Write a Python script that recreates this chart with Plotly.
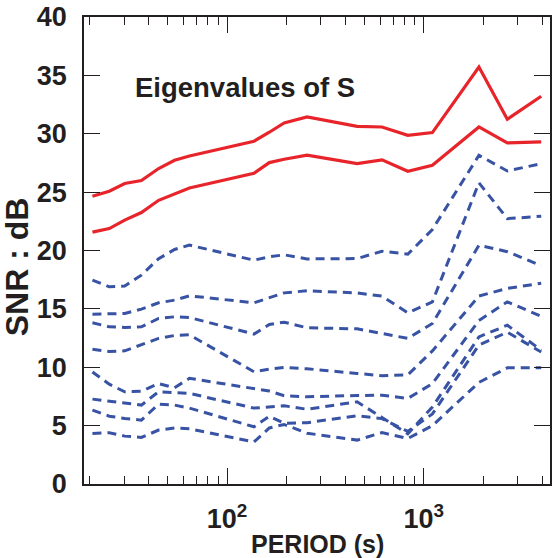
import plotly.graph_objects as go

FONT = "Liberation Sans, Arial, Helvetica, sans-serif"
INK = "#231f20"
RED = "#e8242b"
BLUE = "#3953a4"

period = [20.7, 25.2, 30.2, 36.7, 44.9, 54.1, 64.4, 137, 164, 195, 255, 458, 613, 829, 1105, 1905, 2655, 3947]

red1 = [24.65, 25.08, 25.74, 26.0, 27.02, 27.73, 28.1, 29.36, 30.13, 30.93, 31.44, 30.64, 30.58, 29.87, 30.1, 35.72, 31.24, 33.21]
red2 = [21.57, 21.88, 22.6, 23.25, 24.3, 24.88, 25.36, 26.62, 27.53, 27.82, 28.16, 27.45, 27.76, 26.79, 27.3, 30.58, 29.21, 29.3]

blue1 = [17.46, 16.89, 16.95, 17.89, 19.3, 20.09, 20.46, 19.17, 19.46, 19.63, 19.28, 19.31, 19.94, 19.69, 21.8, 28.15, 26.81, 27.44]
blue2 = [14.55, 14.55, 14.6, 14.98, 15.52, 15.75, 16.12, 15.52, 15.95, 16.37, 16.55, 16.37, 16.09, 14.66, 15.6, 25.8, 22.73, 22.93]
blue3 = [13.81, 13.46, 13.41, 13.46, 14.18, 14.32, 14.26, 12.84, 13.66, 13.86, 13.38, 13.29, 12.89, 12.47, 13.75, 20.45, 19.9, 18.7]
blue4 = [11.55, 11.35, 11.41, 11.9, 12.47, 12.72, 12.78, 9.61, 9.84, 9.98, 9.87, 9.47, 9.27, 9.35, 11.4, 16.1, 16.75, 17.2]
blue5 = [9.6, 8.55, 7.9, 7.95, 8.6, 8.25, 9.05, 8.19, 7.96, 7.56, 7.47, 7.58, 7.61, 7.33, 8.6, 14.0, 15.6, 14.37]
blue6 = [7.27, 7.1, 6.96, 6.76, 7.9, 7.81, 7.76, 6.5, 6.6, 6.7, 6.4, 7.04, 5.7, 4.3, 6.6, 12.6, 13.6, 11.46]
blue7 = [6.33, 5.81, 5.62, 5.47, 6.84, 6.76, 6.5, 4.9, 5.8, 5.2, 5.25, 5.85, 5.6, 4.5, 6.0, 11.9, 13.0, 11.3]
blue8 = [4.33, 4.39, 4.1, 3.99, 4.62, 4.79, 4.73, 3.6, 4.8, 5.1, 4.35, 3.76, 4.4, 3.9, 5.0, 8.7, 9.95, 9.95]

major_ticks = [100, 1000]
major_text = ["10<sup>2</sup>", "10<sup>3</sup>"]
minor_ticks = [20, 30, 40, 50, 60, 70, 80, 90, 200, 300, 400, 500, 600, 700, 800, 900, 2000, 3000, 4000]
y_ticks = [0, 5, 10, 15, 20, 25, 30, 35, 40]

fig = go.Figure()
for ys in [blue1, blue2, blue3, blue4, blue5, blue6, blue7, blue8]:
    fig.add_trace(go.Scatter(x=period, y=ys, mode="lines",
                             line=dict(color=BLUE, width=3, dash="9px,6px"),
                             showlegend=False, hoverinfo="skip"))
for ys in [red1, red2]:
    fig.add_trace(go.Scatter(x=period, y=ys, mode="lines",
                             line=dict(color=RED, width=3.2),
                             showlegend=False, hoverinfo="skip"))

fig.update_xaxes(
    type="log", range=[1.2731, 3.641],
    showline=True, linecolor=INK, linewidth=1.6, mirror="allticks",
    ticks="inside", ticklen=16, tickwidth=1.3, tickcolor=INK,
    tickmode="array", tickvals=major_ticks, ticktext=major_text,
    tickfont=dict(family=FONT, size=27, color=INK, weight="bold"),
    ticklabelstandoff=10,
    showgrid=False, zeroline=False,
    minor=dict(ticks="inside", ticklen=8, tickwidth=1.2, tickcolor=INK,
               tickmode="array", tickvals=minor_ticks, showgrid=False),
)
fig.update_yaxes(
    range=[0, 40],
    showline=True, linecolor=INK, linewidth=1.6, mirror="allticks",
    ticks="inside", ticklen=16, tickwidth=1.3, tickcolor=INK,
    tickmode="array", tickvals=y_ticks,
    tickfont=dict(family=FONT, size=27, color=INK, weight="bold"),
    ticklabelstandoff=10,
    showgrid=False, zeroline=False,
)

fig.add_annotation(text="<b>Eigenvalues of S</b>", xref="paper", yref="paper",
                   x=0.1047, y=0.848, xanchor="left", yanchor="middle",
                   showarrow=False, font=dict(family=FONT, size=27.5, color=INK))
fig.add_annotation(text="<b>PERIOD (s)</b>", xref="paper", yref="paper",
                   x=0.5, y=-0.095, xanchor="center", yanchor="top",
                   showarrow=False, font=dict(family=FONT, size=25, color=INK))
fig.add_annotation(text="<b>SNR : dB</b>", xref="paper", yref="paper",
                   x=-0.145, y=0.465, xanchor="center", yanchor="middle", textangle=-90,
                   showarrow=False, font=dict(family=FONT, size=32, color=INK))

fig.update_layout(
    width=554, height=558,
    margin=dict(l=84, r=2, t=17, b=74),
    paper_bgcolor="white", plot_bgcolor="white",
    showlegend=False,
)

fig.write_html("out.html", config={"displayModeBar": False})
